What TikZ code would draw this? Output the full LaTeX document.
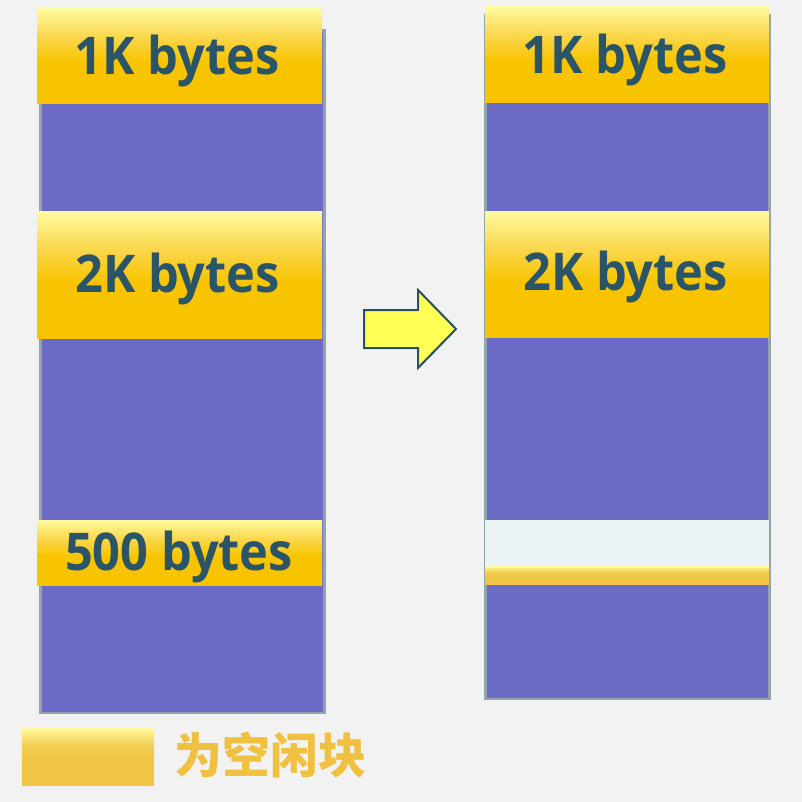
\documentclass[tikz,border=0pt]{standalone}
\usepackage{fontspec}
\setmainfont{Open Sans}
\newfontfamily\cjkfont{Noto Sans CJK SC}
\definecolor{pagebg}{HTML}{F2F2F2}
\definecolor{memfill}{HTML}{6B6BC5}
\definecolor{memedge}{HTML}{90A4AA}
\definecolor{labeltext}{HTML}{2A5468}
\definecolor{goldlow}{HTML}{F8C400}
\definecolor{goldmid}{HTML}{FAD64A}
\definecolor{goldtop}{HTML}{FFFA9E}
\definecolor{ochrelow}{HTML}{F0C445}
\definecolor{ochremid}{HTML}{F3D054}
\definecolor{freefill}{HTML}{EBF2F4}
\definecolor{arrowfill}{HTML}{FFFF55}
\definecolor{arrowedge}{HTML}{2A5066}
\definecolor{legendtext}{HTML}{F0C040}
% vertical gradients: the path box is mapped onto 25bp..75bp
\pgfdeclareverticalshading{usedblock}{100bp}{color(0bp)=(goldlow); color(25bp)=(goldlow); color(47bp)=(goldlow); color(60bp)=(goldmid); color(75bp)=(goldtop); color(100bp)=(goldtop)}
\pgfdeclareverticalshading{freeblock}{100bp}{color(0bp)=(ochrelow); color(25bp)=(ochrelow); color(47bp)=(ochrelow); color(60bp)=(ochremid); color(75bp)=(goldtop); color(100bp)=(goldtop)}
\tikzset{
  memory/.style={draw=memedge, line width=2.7pt, fill=memfill},
  usedbox/.style={shading=usedblock, inner sep=0pt, outer sep=0pt},
  freebox/.style={shading=freeblock, inner sep=0pt, outer sep=0pt},
  sizelabel/.style={text=labeltext, font=\fontsize{52}{58}\selectfont\bfseries, inner sep=0pt, anchor=base, xscale=0.937},
}
\begin{document}
\begin{tikzpicture}[x=1pt, y=-1pt]
  \fill[pagebg] (0,0) rectangle (802,802);
  \useasboundingbox (0,0) rectangle (802,802);

  % memory before compaction
  \path[memory] (40.7,30) rectangle (324.7,713);
  \shade[usedbox] (37,9) rectangle (322,104);
  \shade[usedbox] (37,212) rectangle (322,338);
  \shade[usedbox] (37,520) rectangle (322,585);
  \node[sizelabel] (a1) at (177,75) {1K bytes};
  \node[sizelabel] (a2) at (177.5,292) {2K bytes};
  \node[sizelabel] (a3) at (179,570) {500 bytes};

  % memory after compaction
  \path[memory] (485.3,15) rectangle (769.3,699);
  \shade[usedbox] (485,7) rectangle (769,103);
  \shade[usedbox] (485,212) rectangle (769,337);
  \fill[freefill] (485,520) rectangle (769,566);
  \shade[freebox] (485,566) rectangle (769,584);
  \node[sizelabel] (b1) at (625,74) {1K bytes};
  \node[sizelabel] (b2) at (625.5,290) {2K bytes};

  % transition arrow
  \draw[fill=arrowfill, draw=arrowedge, line width=2pt, line join=miter]
    (364,310) -- (418,310) -- (418,290) -- (456,329) -- (418,368) -- (418,348) -- (364,348) -- cycle;

  % legend
  \shade[freebox] (22,728) rectangle (154,785);
  \node[text=legendtext, font=\cjkfont\fontsize{48}{52}\selectfont\bfseries, anchor=west, inner sep=0pt] (key) at (174.5,755) {为空闲块};
\end{tikzpicture}
\end{document}
